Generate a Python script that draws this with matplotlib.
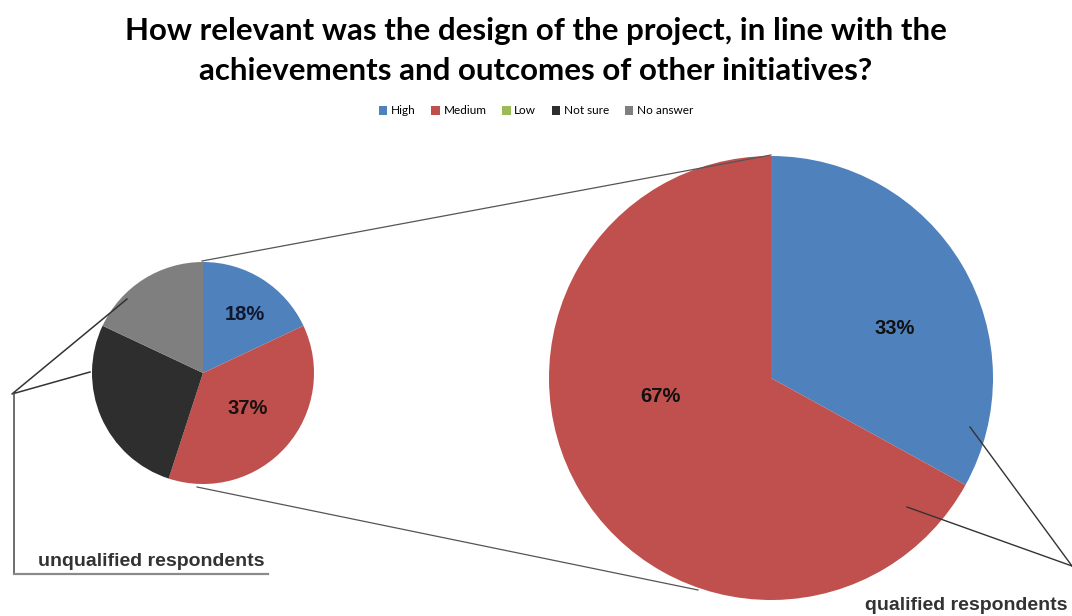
import matplotlib.pyplot as plt
from matplotlib.patches import Patch

# survey answers, percent of respondents
categories = ['High', 'Medium', 'Low', 'Not sure', 'No answer']
colors = ['#4F81BD', '#C0504D', '#9BBB59', '#2E2E2E', '#7F7F7F']
unqualified = [18, 37, 0, 27, 18]
qualified = [33, 67]

title = 'How relevant was the design of the project, in line with the\nachievements and outcomes of other initiatives?'

W, H = 1072, 616
fig = plt.figure(figsize=(W/100., H/100.), dpi=100)
ax = fig.add_axes([0, 0, 1, 1])

def Y(y):
	# pixel rows count down from the top
	return H - y

pct = dict(ha='center', va='center', fontsize=14.5, fontweight='bold', family='Liberation Sans')

# small pie - unqualified respondents
c1, r1 = (203, Y(373)), 111
ax.pie(unqualified, colors=colors, startangle=90, counterclock=False,
	center=c1, radius=r1, wedgeprops=dict(linewidth=0))
ax.text(245, Y(315), '%d%%' % unqualified[0], color='#101830', **pct)
ax.text(248, Y(408), '%d%%' % unqualified[1], color='#1a1010', **pct)

# big pie - qualified respondents
c2, r2 = (771, Y(378)), 222
ax.pie(qualified, colors=colors[:2], startangle=90, counterclock=False,
	center=c2, radius=r2, wedgeprops=dict(linewidth=0))
ax.text(895, Y(328), '%d%%' % qualified[0], color='#101010', **pct)
ax.text(660, Y(396), '%d%%' % qualified[1], color='#101010', **pct)

lc = '#555555'
# connectors between the two pies
ax.plot([202, 771], [Y(261), Y(155)], color=lc, lw=0.9)
ax.plot([197, 698], [Y(487), Y(590)], color=lc, lw=0.9)

# bracket for the unqualified group
ax.plot([127, 12, 90], [Y(299), Y(394), Y(372)], color='#333333', lw=1.1)
ax.plot([14, 14], [Y(394), Y(574)], color='#555555', lw=1.2)
ax.plot([14, 268], [Y(574), Y(574)], color='#8a8a8a', lw=1.6)
ax.text(38, Y(561), 'unqualified respondents', fontsize=14, fontweight='bold', family='Liberation Sans', color='#333333', va='center')

# pointers for the qualified group
ax.plot([970, 1072], [Y(427), Y(566)], color='#333333', lw=1)
ax.plot([907, 1072], [Y(507), Y(566)], color='#333333', lw=1)
ax.text(865, Y(605), 'qualified respondents', fontsize=14, fontweight='bold', family='Liberation Sans', color='#333333', va='center')

ax.set_xlim(0, W)
ax.set_ylim(0, H)
ax.set_aspect('equal')
ax.axis('off')

fig.text(0.5, 1 - 51/H, title, ha='center', va='center', fontsize=22.5, fontweight='bold',
	family='Lato', color='#000000', linespacing=1.5)

handles = [Patch(facecolor=c, edgecolor='none') for c in colors]
fig.legend(handles, categories, loc='center', bbox_to_anchor=(0.5, 1 - 111/H), ncol=5, frameon=False,
	prop=dict(family='Lato', size=8.5), handlelength=0.75, handleheight=0.75, handletextpad=0.3, columnspacing=1.3)

fig.savefig('out.png', dpi=100, facecolor='white')
